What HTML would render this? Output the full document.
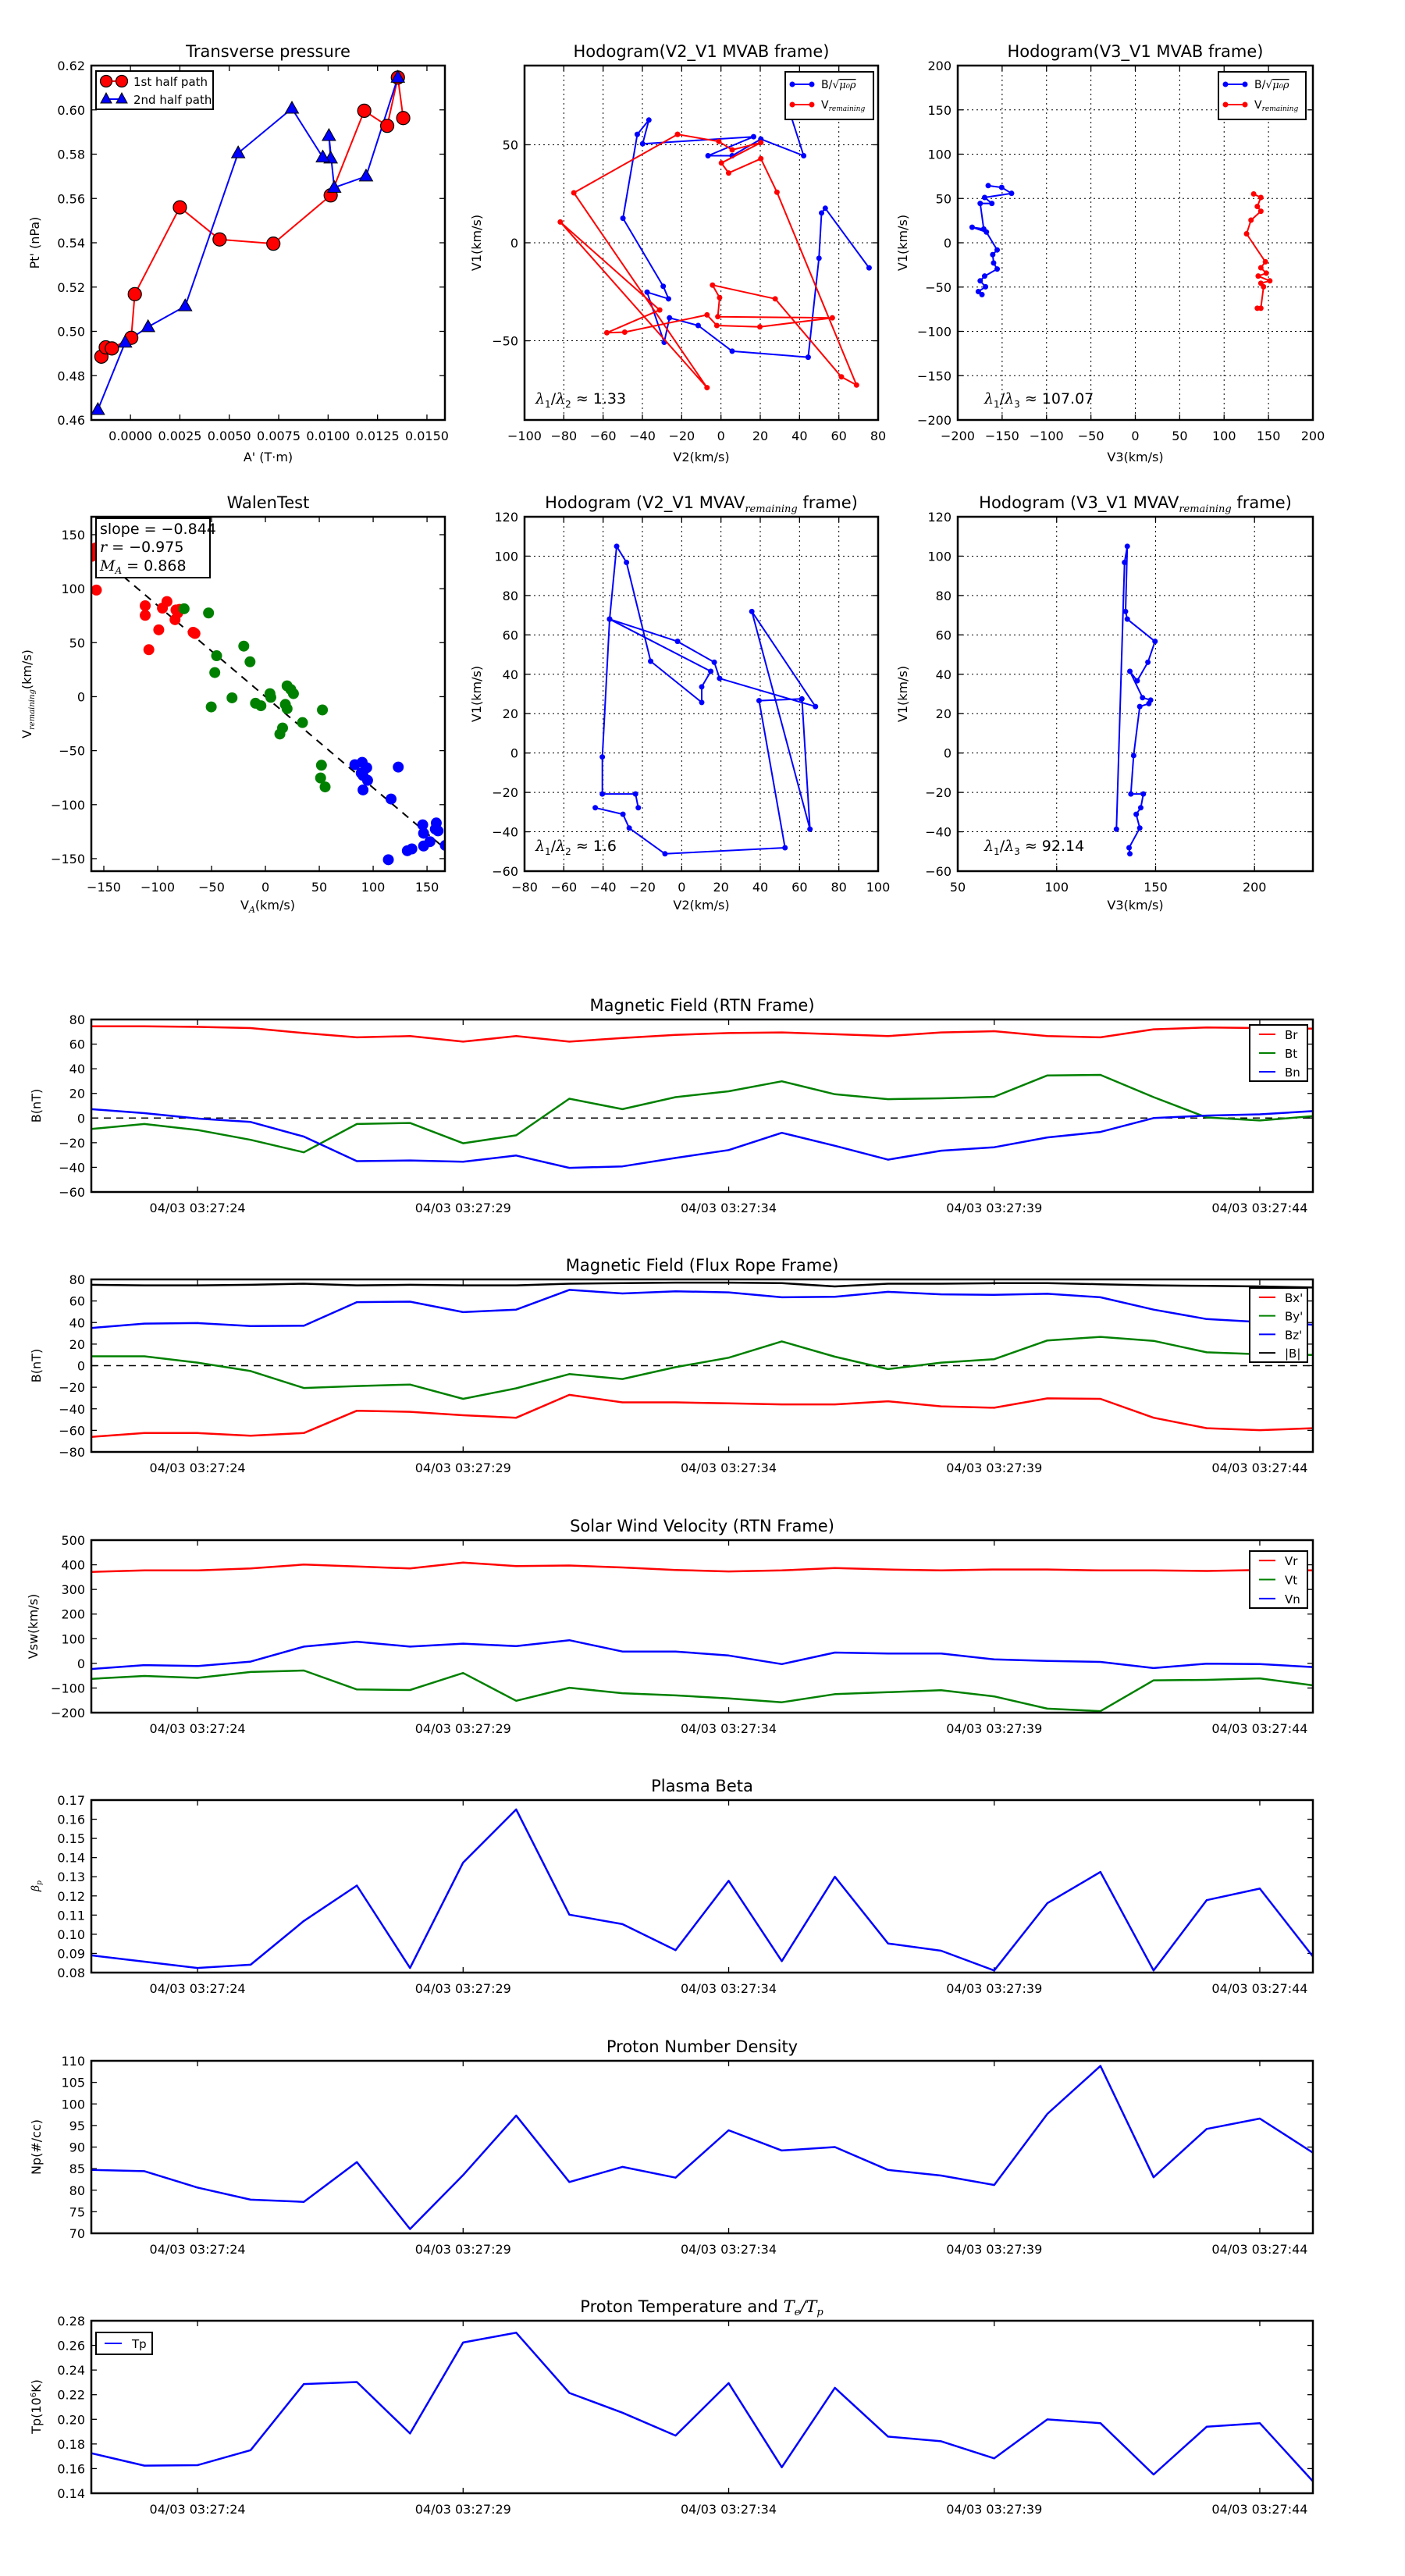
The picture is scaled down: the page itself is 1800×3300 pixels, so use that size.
<!DOCTYPE html>
<html><head><meta charset="utf-8"><title>Flux rope analysis</title>
<style>
html,body{margin:0;padding:0;background:#fff;}
svg{display:block;font-family:"DejaVu Sans","Liberation Sans",sans-serif;}
</style></head>
<body>
<svg id="fig" width="1800" height="3300" viewBox="0 0 1800 3300" xmlns="http://www.w3.org/2000/svg">
<rect x="0" y="0" width="1800" height="3300" fill="#fff"/>
</svg>
<script>
// ---------- Data ----------
// Transverse pressure
const p1RedA = [-0.00147,-0.00125,-0.00094,0.00004,0.00022,0.0025,0.00451,0.00723,0.01013,0.01183,0.01299,0.01353,0.0138];
const p1RedP = [0.4886,0.4928,0.4923,0.4971,0.5168,0.556,0.5415,0.5396,0.5614,0.5996,0.5928,0.6146,0.5963];
const p1BlueA = [0.01353,0.01192,0.01031,0.01004,0.01013,0.00973,0.00817,0.00545,0.00277,0.00089,-0.00027,-0.00165];
const p1BlueP = [0.6146,0.57,0.5649,0.5883,0.5781,0.5786,0.6006,0.5805,0.5114,0.502,0.495,0.4646];
// Hodogram V2_V1 MVAB
const h1BV2 = [35.8,42.1,20.3,5.7,-6.6,16.6,-39.9,-36.7,-42.6,-49.9,-29.4,-26.7,-37.6,-28.9,-26.2,-11.6,5.7,44.4,49.9,51.2,53.1,75.4];
const h1BV1 = [64.1,44.4,52.9,44.4,44.4,54.1,50.5,62.6,55.3,12.5,-22.2,-28.6,-25.2,-50.8,-38.3,-42.2,-55.3,-58.4,-7.9,15.2,17.6,-12.8];
const h1VV2 = [-22.1,-1.1,5.7,20.3,0.2,3.9,20.3,28.5,69,61.3,27.6,-4.3,-0.7,-1.6,56.7,19.8,-2.1,-7.1,-49,-58.1,-31.2,-81.8,-7.1,-74.9,-22.1];
const h1VV1 = [55.3,51.7,47.4,51.1,40.7,35.6,42.9,25.8,-72.6,-68.4,-28.6,-21.6,-28,-37.7,-38.3,-42.9,-42.2,-36.8,-45.6,-45.9,-34.3,10.6,-73.9,25.5,55.3];
// Hodogram V3_V1 MVAB
const h2BV3 = [-165.7,-150.5,-139.4,-169.7,-161.6,-174.7,-170.7,-183.8,-167.7,-155.6,-160.6,-159.6,-155.6,-169.7,-174.7,-168.7,-176.8,-172.7];
const h2BV1 = [64.5,62.5,55.8,51.1,44.4,44.4,15.5,17.5,12.1,-8.1,-13.4,-22.8,-29.6,-37.6,-43,-49.7,-55.1,-58.5];
const h2VV3 = [133.3,141.4,137.4,141.4,130.3,125.3,146.5,141.4,147.5,138.4,151.5,141.4,144.4,141.4,137.4];
const h2VV1 = [55.1,51.1,41,35.6,25.5,10.1,-21.5,-28.2,-34.3,-37.6,-43,-45.7,-49.7,-73.9,-73.9];
// Walen test
const wRedX = [-161,-157.7,-156.9,-111.6,-111.6,-91.4,-95.6,-83,-81.4,-83.9,-99,-108.2,-67.1,-65.4,-79.7];
const wRedY = [130,137.7,98.7,84.2,75.3,88.1,82,80.3,77.5,71.3,61.9,43.5,59.6,58.5,80.8];
const wGreenX = [-75.5,-52.8,-20.1,-45.3,-14.3,-47,-31,4.2,5,-9.2,-4.2,-50.3,20.1,23.5,26,18.5,20.1,34.4,15.9,13.4,52.9,52,51.2,55.4];
const wGreenY = [81.4,77.5,46.8,37.9,32.3,22.3,-1.1,2.8,-0.6,-6.1,-8.4,-9.5,10,6.7,2.8,-7.2,-11.1,-24,-29,-34.6,-12.3,-63.5,-75.3,-83.6];
const wBlueX = [83,89.8,94,88.9,90.6,94.8,90.6,123.3,116.6,146,146.8,157.7,160.2,158.6,152.7,146.8,135.9,131.7,114.1,167];
const wBlueY = [-63,-60.8,-65.8,-70.8,-73,-77.5,-86.4,-65.2,-94.8,-118.7,-126.5,-122.6,-124.3,-117,-134.3,-138.3,-141,-142.7,-151,-137.7];
const walenSlope = -0.844;
// Hodogram V2_V1 MVAV
const h3V2 = [-22.1,-23.5,-40.4,-40.4,-36.7,-33.1,-28.1,-15.8,10.2,10.2,14.8,-36.7,-2.1,16.6,19.3,68.1,35.7,65.3,61.2,39.4,52.6,-8.5,-26.7,-29.9,-44];
const h3V1 = [-27.8,-20.8,-20.8,-2,68,105,96.8,46.6,25.7,33.6,41.5,68,56.7,46.1,37.9,23.6,71.9,-38.7,27.5,26.6,-48.1,-51.2,-38.1,-31.1,-27.8];
// Hodogram V3_V1 MVAV
const h4V3 = [137,136.6,142,140.2,142.5,143.8,137.5,138.9,142,146.6,147.5,143.4,137,140.7,146.1,149.7,135.7,134.8,135.7,134.3,130.2];
const h4V1 = [-51.2,-48.1,-38.1,-31.1,-27.8,-20.8,-20.8,-1.3,23.6,25.1,26.9,28.1,41.5,36.7,46.1,56.7,68,71.9,105,96.8,-38.7];
// Time series (seconds after 03:27:00)
const times = [22,23,24,25,26,27,28,29,30,31,32,33,34,35,36,37,38,39,40,41,42,43,44,45];
const timeTicks = [24,29,34,39,44];
const timeTickLabels = ["04/03 03:27:24","04/03 03:27:29","04/03 03:27:34","04/03 03:27:39","04/03 03:27:44"];
const Br = [74.5,74.5,74,73,69,65.5,66.5,62,66.5,62,65,67.5,69,69.5,68,66.5,69.5,70.5,66.5,65.5,72,73.5,73,72.5];
const Bt = [-8.9,-4.8,-9.7,-17.7,-27.8,-4.8,-4,-20.5,-14,15.7,7.2,17,21.7,29.8,19.3,15.3,16,17.3,34.6,35,17,0.5,-2,1.5];
const Bn = [7.2,4,-0.4,-3.2,-15,-35,-34.4,-35.5,-30.4,-40.4,-39.2,-32.4,-26,-12,-22.5,-33.8,-26.5,-23.7,-15.7,-11.3,0,2,3,5.6];
const Bx = [-66,-62.5,-62.5,-65,-62.5,-41.8,-42.8,-46,-48.3,-27.1,-34,-34,-35,-35.9,-35.9,-33,-37.7,-39,-30.3,-30.8,-48.3,-58,-59.8,-58];
const By = [8.7,8.7,2.8,-5,-20.7,-18.9,-17.5,-30.8,-21,-7.8,-12.4,-1.4,7.4,22.5,8.3,-3.2,2.8,6,23.4,26.7,23,12.4,10.6,10];
const Bz = [35,39,39.5,36.8,37,58.9,59.4,49.7,52,70.3,67,69,68,63.4,63.9,68.5,66.2,65.7,66.7,63.4,52,43.2,40.5,38];
const Bmag = [75,74.5,74.5,75,76,74.5,75,74.5,74.5,76,76.5,77,77,76.5,73.5,76,76,76.5,76.5,75.5,74.5,74,73.5,72.5];
const Vr = [371,377,377,385,401,393,385,409,395,397,389,379,373,377,387,381,377,381,381,377,377,375,379,377];
const Vt = [-63,-51,-59,-35,-29,-106,-108,-39,-152,-99,-121,-130,-142,-158,-125,-117,-109,-134,-184,-194,-69,-67,-61,-89];
const Vn = [-23,-7,-11,7,68,88,68,80,70,94,48,48,32,-3,44,40,40,16,10,6,-19,-1,-3,-15];
const beta = [0.089,0.0857,0.0824,0.0841,0.1069,0.1254,0.0824,0.1374,0.1651,0.1102,0.1053,0.0917,0.1279,0.086,0.13,0.0952,0.0914,0.0811,0.1162,0.1325,0.0811,0.1178,0.1238,0.0884];
const Np = [84.7,84.4,80.6,77.8,77.3,86.5,71,83.5,97.3,81.9,85.4,82.9,93.9,89.2,90,84.7,83.4,81.2,97.7,108.8,83,94.2,96.6,88.7];
const Tp = [0.1725,0.1624,0.1628,0.175,0.2286,0.2303,0.1885,0.2623,0.2703,0.2214,0.2054,0.1868,0.2294,0.1611,0.2256,0.186,0.1822,0.1683,0.1999,0.1969,0.1552,0.194,0.1969,0.1497];

// ---------- Helpers ----------
const NS = 'http://www.w3.org/2000/svg';
const svg = document.getElementById('fig');
const MINUS = '\u2212';
let clipCount = 0;
function mk(tag, attrs, parent) {
  const e = document.createElementNS(NS, tag);
  for (const k in attrs) e.setAttribute(k, attrs[k]);
  (parent || svg).appendChild(e);
  return e;
}
function fmt(v, d) {
  const s = Math.abs(v).toFixed(d);
  return (v < -1e-12 ? MINUS : '') + s;
}
function txt(parent, x, y, s, size, anchor, extra) {
  const a = {x: x, y: y, 'font-size': size, 'text-anchor': anchor || 'middle', fill: '#000'};
  if (extra) for (const k in extra) a[k] = extra[k];
  const t = mk('text', a, parent);
  t.textContent = s;
  return t;
}
function makeAxes(name, box, xdom, ydom, xticks, yticks, xd, yd, grid, showXLabels) {
  const g = mk('g', {});
  
  
  const [x0, y0, x1, y1] = box;
  const sx = v => x0 + (v - xdom[0]) / (xdom[1] - xdom[0]) * (x1 - x0);
  const sy = v => y1 - (v - ydom[0]) / (ydom[1] - ydom[0]) * (y1 - y0);
  const cid = 'clip' + (clipCount++);
  const cp = mk('clipPath', {id: cid}, g);
  mk('rect', {x: x0, y: y0, width: x1 - x0, height: y1 - y0}, cp);
  const grd = mk('g', {stroke: '#000', 'stroke-width': 1, 'stroke-dasharray': '2,4'}, g);
  
  
  const tk = mk('g', {stroke: '#000', 'stroke-width': 1.3}, g);
  
  
  const xl = mk('g', {}, g);
  
  
  const yl = mk('g', {}, g);
  
  
  xticks.forEach((v, i) => {
    const x = sx(v);
    if (grid) mk('line', {x1: x, y1: y0, x2: x, y2: y1}, grd);
    mk('line', {x1: x, y1: y1, x2: x, y2: y1 - 7}, tk);
    mk('line', {x1: x, y1: y0, x2: x, y2: y0 + 7}, tk);
    const lab = showXLabels ? showXLabels[i] : fmt(v, xd);
    txt(xl, x, y1 + 26, lab, 16);
  });
  yticks.forEach(v => {
    const y = sy(v);
    if (grid) mk('line', {x1: x0, y1: y, x2: x1, y2: y}, grd);
    mk('line', {x1: x0, y1: y, x2: x0 + 7, y2: y}, tk);
    mk('line', {x1: x1, y1: y, x2: x1 - 7, y2: y}, tk);
    txt(yl, x0 - 8, y + 6, fmt(v, yd), 16, 'end');
  });
  const plot = mk('g', {'clip-path': 'url(#' + cid + ')'}, g);
  
  
  return {g, plot, sx, sy, box, finish: () => {
    const fr = mk('rect', {x: x0, y: y0, width: x1 - x0, height: y1 - y0, fill: 'none', stroke: '#000', 'stroke-width': 2.5}, g);
    
    
  }};
}
function pathD(ax, xs, ys) {
  return xs.map((v, i) => (i ? 'L' : 'M') + ax.sx(v).toFixed(1) + ',' + ax.sy(ys[i]).toFixed(1)).join('');
}
function range(a, b, s) { const r = []; for (let v = a; v <= b + 1e-9; v += s) r.push(+v.toFixed(6)); return r; }
function title(ax, s) {
  const t = txt(ax.g, (ax.box[0] + ax.box[2]) / 2, ax.box[1] - 11, s, 21);
  return t;
}
function ylabel(ax, x, s) {
  const cy = (ax.box[1] + ax.box[3]) / 2;
  return txt(ax.g, x, cy, s, 16, 'middle', {transform: 'rotate(-90 ' + x + ' ' + cy + ')'});
}
function xlabel(ax, y, s) {
  return txt(ax.g, (ax.box[0] + ax.box[2]) / 2, y, s, 16);
}
function dots(ax, xs, ys, color, r, name) {
  const g = mk('g', {fill: color}, ax.plot);
  
  
  xs.forEach((v, i) => {
    const c = mk('circle', {cx: ax.sx(v), cy: ax.sy(ys[i]), r: r}, g);
    
    
  });
  return g;
}
function line(ax, xs, ys, color, w, name) {
  const p = mk('path', {d: pathD(ax, xs, ys), fill: 'none', stroke: color, 'stroke-width': w, 'stroke-linejoin': 'round'}, ax.plot);
  
  
  return p;
}
function legendBox(parent, x0, y0, x1, y1, name) {
  const r = mk('rect', {x: x0, y: y0, width: x1 - x0, height: y1 - y0, fill: '#fff', stroke: '#000', 'stroke-width': 2}, parent);
  
  
  return r;
}
function lambdaText(parent, x, y, a, b, val) {
  const t = mk('text', {x: x, y: y, 'font-size': 19, fill: '#000'}, parent);
  
  
  const l1 = mk('tspan', {'font-family': 'DejaVu Serif, serif', 'font-style': 'italic'}, t); l1.textContent = 'λ';
  const s1 = mk('tspan', {'font-size': 12, dy: 5}, t); s1.textContent = a;
  const sl = mk('tspan', {dy: -5}, t); sl.textContent = '/';
  const l2 = mk('tspan', {'font-family': 'DejaVu Serif, serif', 'font-style': 'italic'}, t); l2.textContent = 'λ';
  const s2 = mk('tspan', {'font-size': 12, dy: 5}, t); s2.textContent = b;
  const rest = mk('tspan', {dy: -5}, t); rest.textContent = ' ≈ ' + val;
  return t;
}

// ---------- Panel 1: Transverse pressure ----------
const ax1 = makeAxes('transverse-pressure-chart', [117, 84, 570, 538], [-0.00198, 0.01591], [0.46, 0.62],
  range(0, 0.015, 0.0025), range(0.46, 0.62, 0.02), 4, 2, false);
title(ax1, 'Transverse pressure');
ylabel(ax1, 50, "Pt' (nPa)");
xlabel(ax1, 591, "A' (T·m)");
line(ax1, p1RedA, p1RedP, '#f00', 2, 'first-half-path-line');
line(ax1, p1BlueA, p1BlueP, '#00f', 2, 'second-half-path-line');
{
  const g = mk('g', {fill: '#f00', stroke: '#000', 'stroke-width': 1.2}, ax1.plot);
  
  
  p1RedA.forEach((v, i) => {
    const c = mk('circle', {cx: ax1.sx(v), cy: ax1.sy(p1RedP[i]), r: 8.5}, g);
    
    
  });
  const g2 = mk('g', {fill: '#00f', stroke: '#000', 'stroke-width': 1}, ax1.plot);
  
  
  p1BlueA.forEach((v, i) => {
    const x = ax1.sx(v), y = ax1.sy(p1BlueP[i]);
    const t = mk('polygon', {points: `${x},${y - 9} ${x - 8.5},${y + 6} ${x + 8.5},${y + 6}`}, g2);
    
    
  });
}
ax1.finish();
{
  const lg = mk('g', {}, ax1.g);
  
  
  legendBox(lg, 123, 91, 273, 140, 'pressure-legend-box');
  mk('line', {x1: 136, y1: 104, x2: 156, y2: 104, stroke: '#f00', 'stroke-width': 2}, lg);
  mk('circle', {cx: 136, cy: 104, r: 7.5, fill: '#f00', stroke: '#000', 'stroke-width': 1.2}, lg);
  mk('circle', {cx: 156, cy: 104, r: 7.5, fill: '#f00', stroke: '#000', 'stroke-width': 1.2}, lg);
  const t1 = txt(lg, 171, 110, '1st half path', 15, 'start');
  
  mk('line', {x1: 136, y1: 127, x2: 156, y2: 127, stroke: '#00f', 'stroke-width': 2}, lg);
  mk('polygon', {points: '136,119 129,132 143,132', fill: '#00f', stroke: '#000'}, lg);
  mk('polygon', {points: '156,119 149,132 163,132', fill: '#00f', stroke: '#000'}, lg);
  const t2 = txt(lg, 171, 133, '2nd half path', 15, 'start');
  
}

// ---------- legend for hodograms ----------
function hodoLegend(parent, x0, x1, name) {
  const lg = mk('g', {}, parent);
  
  
  legendBox(lg, x0, 92, x1, 153, name + '-box');
  const lx = x0 + 9;
  mk('line', {x1: lx, y1: 108, x2: lx + 25, y2: 108, stroke: '#00f', 'stroke-width': 2}, lg);
  mk('circle', {cx: lx, cy: 108, r: 3.5, fill: '#00f'}, lg);
  mk('circle', {cx: lx + 25, cy: 108, r: 3.5, fill: '#00f'}, lg);
  const t = mk('text', {x: lx + 37, y: 113, 'font-size': 14}, lg);
  
  
  const a = mk('tspan', {}, t); a.textContent = 'B/√';
  const b = mk('tspan', {'font-family': 'DejaVu Serif, serif', 'font-style': 'italic', 'text-decoration': 'overline', 'font-size': 13}, t); b.textContent = 'μ₀ρ';
  mk('line', {x1: lx, y1: 134, x2: lx + 25, y2: 134, stroke: '#f00', 'stroke-width': 2}, lg);
  mk('circle', {cx: lx, cy: 134, r: 3.5, fill: '#f00'}, lg);
  mk('circle', {cx: lx + 25, cy: 134, r: 3.5, fill: '#f00'}, lg);
  const t2 = mk('text', {x: lx + 37, y: 139, 'font-size': 14}, lg);
  
  
  const c = mk('tspan', {}, t2); c.textContent = 'V';
  const d = mk('tspan', {'font-size': 9, dy: 3, 'font-family': 'DejaVu Serif, serif', 'font-style': 'italic'}, t2); d.textContent = 'remaining';
}

// ---------- Panel 2: Hodogram V2_V1 MVAB ----------
const ax2 = makeAxes('hodogram-v2-v1-mvab', [672, 84, 1125, 538], [-100, 80], [-90.4, 90.4],
  range(-100, 80, 20), [-50, 0, 50], 0, 0, true);
title(ax2, 'Hodogram(V2_V1 MVAB frame)');
ylabel(ax2, 616, 'V1(km/s)');
xlabel(ax2, 591, 'V2(km/s)');
line(ax2, h1BV2, h1BV1, '#00f', 2, 'b-alfven-path');
dots(ax2, h1BV2, h1BV1, '#00f', 3.5, 'b-alfven-points');
line(ax2, h1VV2, h1VV1, '#f00', 2, 'v-remaining-path');
dots(ax2, h1VV2, h1VV1, '#f00', 3.5, 'v-remaining-points');
ax2.finish();
hodoLegend(ax2.g, 1006, 1119, 'hodogram-mvab-legend');
lambdaText(ax2.g, 686, 517, '1', '2', '1.33');

// ---------- Panel 3: Hodogram V3_V1 MVAB ----------
const ax3 = makeAxes('hodogram-v3-v1-mvab', [1227, 84, 1682, 538], [-200, 200], [-200, 200],
  range(-200, 200, 50), range(-200, 200, 50), 0, 0, true);
title(ax3, 'Hodogram(V3_V1 MVAB frame)');
ylabel(ax3, 1162, 'V1(km/s)');
xlabel(ax3, 591, 'V3(km/s)');
line(ax3, h2BV3, h2BV1, '#00f', 2, 'b-alfven-path-v3');
dots(ax3, h2BV3, h2BV1, '#00f', 3.5, 'b-alfven-points-v3');
line(ax3, h2VV3, h2VV1, '#f00', 2, 'v-remaining-path-v3');
dots(ax3, h2VV3, h2VV1, '#f00', 3.5, 'v-remaining-points-v3');
ax3.finish();
hodoLegend(ax3.g, 1561, 1673, 'hodogram-mvab-v3-legend');
lambdaText(ax3.g, 1261, 517, '1', '3', '107.07');

// ---------- Panel 4: Walen test ----------
const ax4 = makeAxes('walen-test-chart', [117, 662, 570, 1116], [-161.6, 166.6], [-161.6, 166.6],
  range(-150, 150, 50), range(-150, 150, 50), 0, 0, false);
title(ax4, 'WalenTest');
{
  const cy = 889, x = 40;
  const t = mk('text', {x: x, y: cy, 'font-size': 16, 'text-anchor': 'middle', transform: 'rotate(-90 ' + x + ' ' + cy + ')'}, ax4.g);
  
  
  const a = mk('tspan', {}, t); a.textContent = 'V';
  const b = mk('tspan', {'font-size': 10, dy: 4, 'font-family': 'DejaVu Serif, serif', 'font-style': 'italic'}, t); b.textContent = 'remaining';
  const c = mk('tspan', {dy: -4}, t); c.textContent = '(km/s)';
  const t2 = mk('text', {x: 343, y: 1165, 'font-size': 16, 'text-anchor': 'middle'}, ax4.g);
  
  
  const d = mk('tspan', {}, t2); d.textContent = 'V';
  const e = mk('tspan', {'font-size': 11, dy: 4, 'font-family': 'DejaVu Serif, serif', 'font-style': 'italic'}, t2); e.textContent = 'A';
  const f = mk('tspan', {dy: -4}, t2); f.textContent = '(km/s)';
}
{
  const fx = [-161.6, 166.6];
  const fy = fx.map(v => v * walenSlope);
  const p = mk('path', {d: pathD(ax4, fx, fy), stroke: '#000', 'stroke-width': 2, 'stroke-dasharray': '10,8', fill: 'none'}, ax4.plot);
  
  
}
dots(ax4, wRedX, wRedY, '#f00', 7, 'walen-red-points');
dots(ax4, wGreenX, wGreenY, '#008000', 7, 'walen-green-points');
dots(ax4, wBlueX, wBlueY, '#00f', 7, 'walen-blue-points');
ax4.finish();
{
  const bx = mk('g', {}, ax4.g);
  
  
  legendBox(bx, 123, 664, 269, 740, 'walen-stats-frame');
  const t1 = txt(bx, 128, 684, 'slope = ' + MINUS + '0.844', 19, 'start');
  
  const t2 = mk('text', {x: 128, y: 707, 'font-size': 19}, bx);
  
  
  const a = mk('tspan', {'font-family': 'DejaVu Serif, serif', 'font-style': 'italic'}, t2); a.textContent = 'r';
  const b = mk('tspan', {}, t2); b.textContent = ' = ' + MINUS + '0.975';
  const t3 = mk('text', {x: 128, y: 731, 'font-size': 19}, bx);
  
  
  const c = mk('tspan', {'font-family': 'DejaVu Serif, serif', 'font-style': 'italic'}, t3); c.textContent = 'M';
  const d = mk('tspan', {'font-family': 'DejaVu Serif, serif', 'font-style': 'italic', 'font-size': 12, dy: 4}, t3); d.textContent = 'A';
  const e = mk('tspan', {dy: -4}, t3); e.textContent = ' = 0.868';
}

// ---------- Panel 5: Hodogram V2_V1 MVAV ----------
function mvavTitle(ax, pre) {
  const t = mk('text', {x: (ax.box[0] + ax.box[2]) / 2, y: ax.box[1] - 11, 'font-size': 21, 'text-anchor': 'middle'}, ax.g);
  
  
  const a = mk('tspan', {}, t); a.textContent = pre + ' MVAV';
  const b = mk('tspan', {'font-size': 13, dy: 5, 'font-family': 'DejaVu Serif, serif', 'font-style': 'italic'}, t); b.textContent = 'remaining';
  const c = mk('tspan', {dy: -5}, t); c.textContent = ' frame)';
}
const ax5 = makeAxes('hodogram-v2-v1-mvav', [672, 662, 1125, 1116], [-80, 100], [-60, 120],
  range(-80, 100, 20), range(-60, 120, 20), 0, 0, true);
mvavTitle(ax5, 'Hodogram (V2_V1');
ylabel(ax5, 616, 'V1(km/s)');
xlabel(ax5, 1165, 'V2(km/s)');
line(ax5, h3V2, h3V1, '#00f', 2, 'mvav-v2-path');
dots(ax5, h3V2, h3V1, '#00f', 3.5, 'mvav-v2-points');
ax5.finish();
lambdaText(ax5.g, 686, 1090, '1', '2', '1.6');

// ---------- Panel 6: Hodogram V3_V1 MVAV ----------
const ax6 = makeAxes('hodogram-v3-v1-mvav', [1227, 662, 1682, 1116], [50, 229.5], [-60, 120],
  [50, 100, 150, 200], range(-60, 120, 20), 0, 0, true);
mvavTitle(ax6, 'Hodogram (V3_V1');
ylabel(ax6, 1162, 'V1(km/s)');
xlabel(ax6, 1165, 'V3(km/s)');
line(ax6, h4V3, h4V1, '#00f', 2, 'mvav-v3-path');
dots(ax6, h4V3, h4V1, '#00f', 3.5, 'mvav-v3-points');
ax6.finish();
lambdaText(ax6.g, 1261, 1090, '1', '3', '92.14');

// ---------- Time series ----------
function tsAxes(name, top, ydom, yticks, yd, ttl) {
  const ax = makeAxes(name, [117, top, 1682, top + 221], [22, 45], ydom, timeTicks, yticks, 0, yd, false, timeTickLabels);
  title(ax, ttl);
  return ax;
}
function tsLegend(ax, y0, y1, entries, name) {
  const lg = mk('g', {}, ax.g);
  
  
  legendBox(lg, 1601, y0, 1675, y1, name + '-box');
  const step = (y1 - y0) / entries.length;
  entries.forEach((en, i) => {
    const y = y0 + step * (i + 0.5);
    mk('line', {x1: 1613, y1: y, x2: 1634, y2: y, stroke: en[1], 'stroke-width': 2}, lg);
    const t = txt(lg, 1646, y + 6, en[0], 15, 'start');
    
  });
}
function zeroLine(ax) {
  const p = mk('path', {d: pathD(ax, [22, 45], [0, 0]), stroke: '#000', 'stroke-width': 1.5, 'stroke-dasharray': '9,7'}, ax.plot);
  
  
}
const tops = [1306, 1639, 1973, 2306, 2640, 2973];

const t1 = tsAxes('magnetic-field-rtn-chart', tops[0], [-60, 80], range(-60, 80, 20), 0, 'Magnetic Field (RTN Frame)');
ylabel(t1, 52, 'B(nT)');
zeroLine(t1);
line(t1, times, Br, '#f00', 2.5, 'br-line');
line(t1, times, Bt, '#008000', 2.5, 'bt-line');
line(t1, times, Bn, '#00f', 2.5, 'bn-line');
t1.finish();
tsLegend(t1, 1313, 1385, [['Br', '#f00'], ['Bt', '#008000'], ['Bn', '#00f']], 'rtn-field-legend');

const t2 = tsAxes('magnetic-field-flux-rope-chart', tops[1], [-80, 80], range(-80, 80, 20), 0, 'Magnetic Field (Flux Rope Frame)');
ylabel(t2, 52, 'B(nT)');
zeroLine(t2);
line(t2, times, Bx, '#f00', 2.5, 'bx-line');
line(t2, times, By, '#008000', 2.5, 'by-line');
line(t2, times, Bz, '#00f', 2.5, 'bz-line');
line(t2, times, Bmag, '#000', 2.5, 'bmag-line');
t2.finish();
tsLegend(t2, 1650, 1745, [["Bx'", '#f00'], ["By'", '#008000'], ["Bz'", '#00f'], ['|B|', '#000']], 'flux-rope-legend');

const t3 = tsAxes('solar-wind-velocity-chart', tops[2], [-200, 500], range(-200, 500, 100), 0, 'Solar Wind Velocity (RTN Frame)');
ylabel(t3, 48, 'Vsw(km/s)');
line(t3, times, Vr, '#f00', 2.5, 'vr-line');
line(t3, times, Vt, '#008000', 2.5, 'vt-line');
line(t3, times, Vn, '#00f', 2.5, 'vn-line');
t3.finish();
tsLegend(t3, 1987, 2060, [['Vr', '#f00'], ['Vt', '#008000'], ['Vn', '#00f']], 'velocity-legend');

const t4 = tsAxes('plasma-beta-chart', tops[3], [0.08, 0.17], range(0.08, 0.17, 0.01), 2, 'Plasma Beta');
{
  const cy = tops[3] + 110, x = 50;
  const t = mk('text', {x: x, y: cy, 'font-size': 14, 'text-anchor': 'middle', 'font-family': 'DejaVu Serif, serif', 'font-style': 'italic', transform: 'rotate(-90 ' + x + ' ' + cy + ')'}, t4.g);
  
  
  const a = mk('tspan', {}, t); a.textContent = 'β';
  const b = mk('tspan', {'font-size': 9, dy: 3}, t); b.textContent = 'p';
}
line(t4, times, beta, '#00f', 2.5, 'beta-line');
t4.finish();

const t5 = tsAxes('proton-density-chart', tops[4], [70, 110], range(70, 110, 5), 0, 'Proton Number Density');
ylabel(t5, 52, 'Np(#/cc)');
line(t5, times, Np, '#00f', 2.5, 'density-line');
t5.finish();

const t6 = tsAxes('proton-temperature-chart', tops[5], [0.14, 0.28], range(0.14, 0.28, 0.02), 2, '');
{
  const t = mk('text', {x: 899, y: tops[5] - 11, 'font-size': 21, 'text-anchor': 'middle'}, t6.g);
  
  
  const a = mk('tspan', {}, t); a.textContent = 'Proton Temperature and ';
  const b = mk('tspan', {'font-family': 'DejaVu Serif, serif', 'font-style': 'italic'}, t); b.textContent = 'T';
  const c = mk('tspan', {'font-family': 'DejaVu Serif, serif', 'font-style': 'italic', 'font-size': 13, dy: 4}, t); c.textContent = 'e';
  const d = mk('tspan', {'font-family': 'DejaVu Serif, serif', 'font-style': 'italic', dy: -4}, t); d.textContent = '/T';
  const e = mk('tspan', {'font-family': 'DejaVu Serif, serif', 'font-style': 'italic', 'font-size': 13, dy: 4}, t); e.textContent = 'p';
  const cy = tops[5] + 110, x = 52;
  const y = mk('text', {x: x, y: cy, 'font-size': 16, 'text-anchor': 'middle', transform: 'rotate(-90 ' + x + ' ' + cy + ')'}, t6.g);
  
  
  const f = mk('tspan', {}, y); f.textContent = 'Tp(10';
  const g = mk('tspan', {'font-size': 10, dy: -6}, y); g.textContent = '6';
  const h = mk('tspan', {dy: 6}, y); h.textContent = 'K)';
}
line(t6, times, Tp, '#00f', 2.5, 'temperature-line');
t6.finish();
{
  const lg = mk('g', {}, t6.g);
  
  
  legendBox(lg, 123, 2988, 195, 3016, 'temperature-legend-box');
  mk('line', {x1: 134, y1: 3002, x2: 156, y2: 3002, stroke: '#00f', 'stroke-width': 2}, lg);
  const t = txt(lg, 169, 3008, 'Tp', 15, 'start');
  
}
</script>
</body></html>
